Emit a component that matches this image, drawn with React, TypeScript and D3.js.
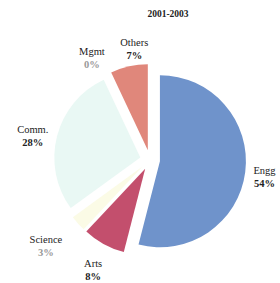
import React from "react";
import { pie, arc } from "d3";

const categories = ["Engg", "Arts", "Science", "Comm.", "Mgmt", "Others"];
const shares = [54, 8, 3, 28, 0, 7];
const colors = ["#6f93cb", "#c34f6d", "#fbfbe6", "#e9f8f4", "#ffffff", "#e0877b"];
const valueColors = ["#222", "#222", "#999", "#222", "#999", "#222"];
const title = "2001-2003";

const cx = 150;
const cy = 160;
const radius = 86;
const explode = 10;
// label placement: radius and small angle nudge (degrees) per slice
const labelR = [115, 118, 131, 121, 123, 119];
const labelNudge = [-2, 0, 4, 0, -3, 5];

export default function App() {
  const pieGen = pie<number>().sort(null).value(d => d);
  const arcs = pieGen(shares);
  const arcGen = arc<any>().innerRadius(0).outerRadius(radius);

  return (
    <svg width={280} height={283} style={{ position: "absolute", left: 0, top: 0 }}>
      <rect width={280} height={283} fill="#fff" />
      <text x={168} y={17} textAnchor="middle" fontFamily="Liberation Serif" fontWeight="bold" fontSize={9.5} fill="#222">
        {title}
      </text>
      <g transform={`translate(${cx},${cy})`}>
        {arcs.map((a, i) => {
          const mid = (a.startAngle + a.endAngle) / 2;
          const dx = Math.sin(mid) * explode;
          const dy = -Math.cos(mid) * explode;
          return a.value > 0 ? (
            <path key={i} d={arcGen(a) || ""} transform={`translate(${dx},${dy})`} fill={colors[i]} />
          ) : null;
        })}
        {arcs.map((a, i) => {
          const mid = (a.startAngle + a.endAngle) / 2 + (labelNudge[i] * Math.PI) / 180;
          const x = Math.sin(mid) * labelR[i];
          const y = -Math.cos(mid) * labelR[i];
          return (
            <g key={"l" + i} fontFamily="Liberation Serif" fontSize={10.5} textAnchor="middle">
              <text x={x} y={y + 3.5} fill="#222">{categories[i]}</text>
              <text x={x} y={y + 16.5} fill={valueColors[i]} fontWeight="bold">{shares[i]}%</text>
            </g>
          );
        })}
      </g>
    </svg>
  );
}
